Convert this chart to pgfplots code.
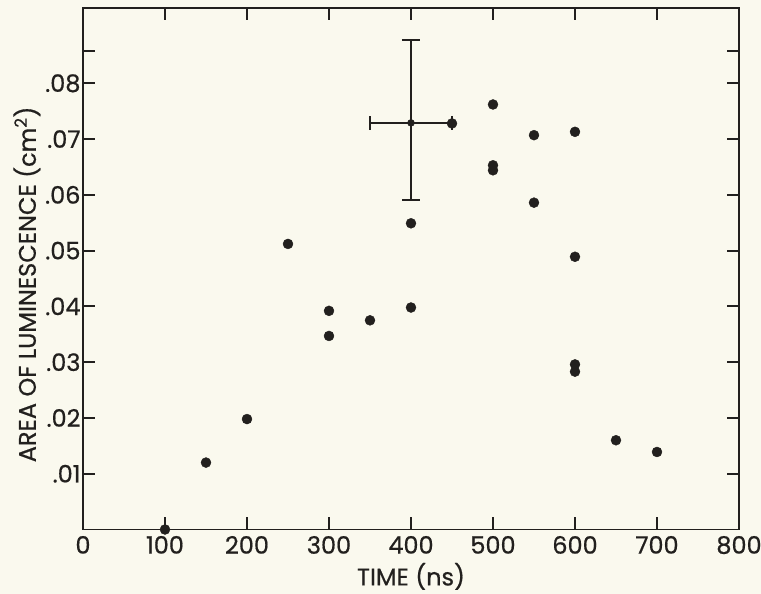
\documentclass[border=0pt]{standalone}
\usepackage{fontspec}
\setmainfont{Poppins}[FakeBold=0.6]
\usepackage{pgfplots}
\pgfplotsset{compat=1.18}

\definecolor{ink}{RGB}{34,32,30}
\definecolor{paper}{RGB}{250,249,238}

\begin{document}
\begin{tikzpicture}
% paper background, same size as the page
\fill[paper] (-83pt,-64.5pt) rectangle (678pt,529.5pt);
\begin{axis}[
    scale only axis,
    width=656pt,
    height=521.5pt,
    xmin=0, xmax=800,
    ymin=0, ymax=0.0935,
    xtick={0,100,...,800},
    ytick={0.01,0.02,0.03,0.04,0.05,0.06,0.07,0.08},
    yticklabels={.01,.02,.03,.04,.05,.06,.07,.08},
    extra y ticks={0.0858},
    extra y tick labels={},
    /pgf/number format/assume math mode=true,
    tick align=inside,
    major tick length=12pt,
    axis line style={ink, line width=1.8pt},
    every tick/.style={ink, line width=1.8pt},
    tick label style={ink, font=\fontsize{24}{28}\selectfont},
    label style={ink, font=\fontsize{24}{28}\selectfont},
    xticklabel style={yshift=-3pt},
    yticklabel style={xshift=1pt},
    xlabel={TIME (ns)},
    ylabel={AREA OF LUMINESCENCE (cm\textsuperscript{2})},
    xlabel style={yshift=-2pt},
    ylabel style={at={(ticklabel cs:0.47)}, yshift=-2pt},
]

\addplot[only marks, mark=*, mark size=5pt, ink] coordinates {
    (100,0.0000)
    (150,0.0120)
    (200,0.0198)
    (250,0.0512)
    (300,0.0392)
    (300,0.0347)
    (350,0.0375)
    (400,0.0398)
    (400,0.0549)
    (450,0.0728)
    (500,0.0762)
    (500,0.0653)
    (500,0.0644)
    (550,0.0707)
    (550,0.0586)
    (600,0.0713)
    (600,0.0489)
    (600,0.0296)
    (600,0.0283)
    (650,0.0160)
    (700,0.0139)
};

% point with vertical error bar
\addplot[ink, mark=*, mark size=3.5pt,
    error bars/.cd,
    y dir=both, y explicit,
    error bar style={ink, line width=1.8pt},
    error mark options={ink, rotate=90, line width=1.8pt, mark size=9pt},
] coordinates {
    (400,0.0729) += (0,0.0148) -= (0,0.0138)
};
% same point, horizontal error bar
\addplot[ink, mark=none,
    error bars/.cd,
    x dir=both, x explicit,
    error bar style={ink, line width=1.8pt},
    error mark options={ink, rotate=90, line width=1.8pt, mark size=7pt},
] coordinates {
    (400,0.0729) +- (50,0)
};

\end{axis}
\pgfresetboundingbox
\useasboundingbox (-83pt,-64.5pt) rectangle (678pt,529.5pt);
\end{tikzpicture}
\end{document}
